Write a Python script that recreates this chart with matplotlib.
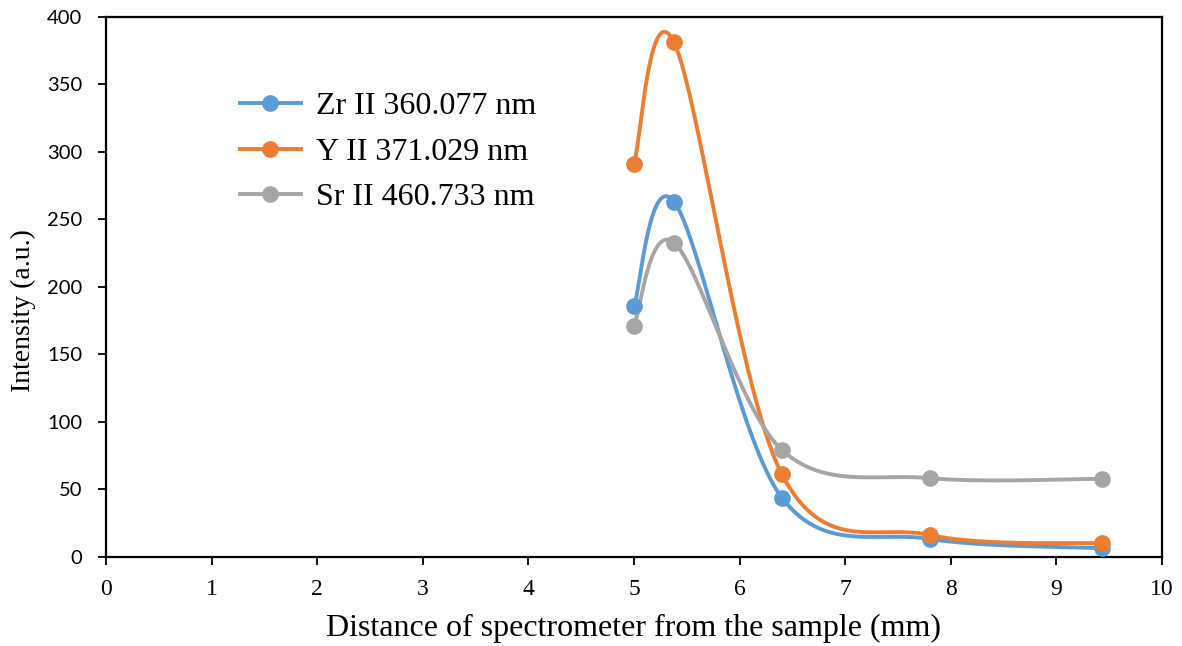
import numpy as np
import matplotlib
matplotlib.use("Agg")
import matplotlib.pyplot as plt
from matplotlib.lines import Line2D

# distance of spectrometer from the sample (mm)
distance = [5.0, 5.38, 6.4, 7.8, 9.43]

zr_360 = [185.8, 263.2, 44.0, 13.4, 6.5]
y_371 = [290.9, 381.2, 61.4, 16.3, 10.1]
sr_460 = [171.4, 232.8, 79.4, 58.4, 57.9]

series_labels = ["Zr II 360.077 nm", "Y II 371.029 nm", "Sr II 460.733 nm"]
series_colors = ["#5B9BD5", "#ED7D31", "#A5A5A5"]


def smooth_curve(xs, ys, n=60):
    # Excel-like smoothed line: cubic Bezier through the points (Catmull-Rom tangents)
    p = np.column_stack([xs, ys]).astype(float)
    out = []
    for i in range(len(p) - 1):
        p0 = p[i - 1] if i > 0 else p[i]
        p1, p2 = p[i], p[i + 1]
        p3 = p[i + 2] if i + 2 < len(p) else p[i + 1]
        c1 = p1 + (p2 - p0) / 6.0
        c2 = p2 - (p3 - p1) / 6.0
        t = np.linspace(0, 1, n)[:, None]
        seg = ((1 - t) ** 3) * p1 + 3 * (1 - t) ** 2 * t * c1 + 3 * (1 - t) * t ** 2 * c2 + t ** 3 * p2
        out.append(seg if i == 0 else seg[1:])
    out = np.vstack(out)
    return out[:, 0], out[:, 1]


fig = plt.figure(figsize=(11.82, 6.46), dpi=100)
ax = fig.add_axes([0.0897, 0.1378, 0.8933, 0.8359])

for vals, color in zip([zr_360, y_371, sr_460], series_colors):
    sx, sy = smooth_curve(distance, vals)
    ax.plot(sx, sy, color=color, lw=2.8, solid_capstyle="round", zorder=2)
    ax.plot(distance, vals, "o", color=color, ms=11, zorder=3)

ax.set_xlim(0, 10)
ax.set_ylim(0, 400)
ax.set_xticks(range(0, 11))
ax.set_yticks(range(0, 401, 50))

for sp in ax.spines.values():
    sp.set_linewidth(1.6)
    sp.set_color("black")
ax.tick_params(direction="out", length=6, width=1.3, colors="black")
ax.tick_params(axis="y", labelsize=14.5, pad=11)
ax.tick_params(axis="x", labelsize=17, pad=10)
for lab in ax.get_yticklabels():
    lab.set_family("Lato")
for lab in ax.get_xticklabels():
    lab.set_family("Liberation Serif")

ax.set_xlabel("Distance of spectrometer from the sample (mm)", family="Liberation Serif", fontsize=23, labelpad=10)
ax.set_ylabel("Intensity (a.u.)", family="Liberation Serif", fontsize=20)
ax.yaxis.set_label_coords(-0.066, 0.457)

handles = [Line2D([0], [0], color=c, lw=2.8, marker="o", ms=11) for c in series_colors]
ax.legend(handles, series_labels, loc="upper left", bbox_to_anchor=(0.127, 0.861), frameon=False,
          borderpad=0, borderaxespad=0,
          prop={"family": "Liberation Serif", "size": 23}, handlelength=1.9, handletextpad=0.47,
          labelspacing=0.5)

fig.savefig("out.png", dpi=100)
